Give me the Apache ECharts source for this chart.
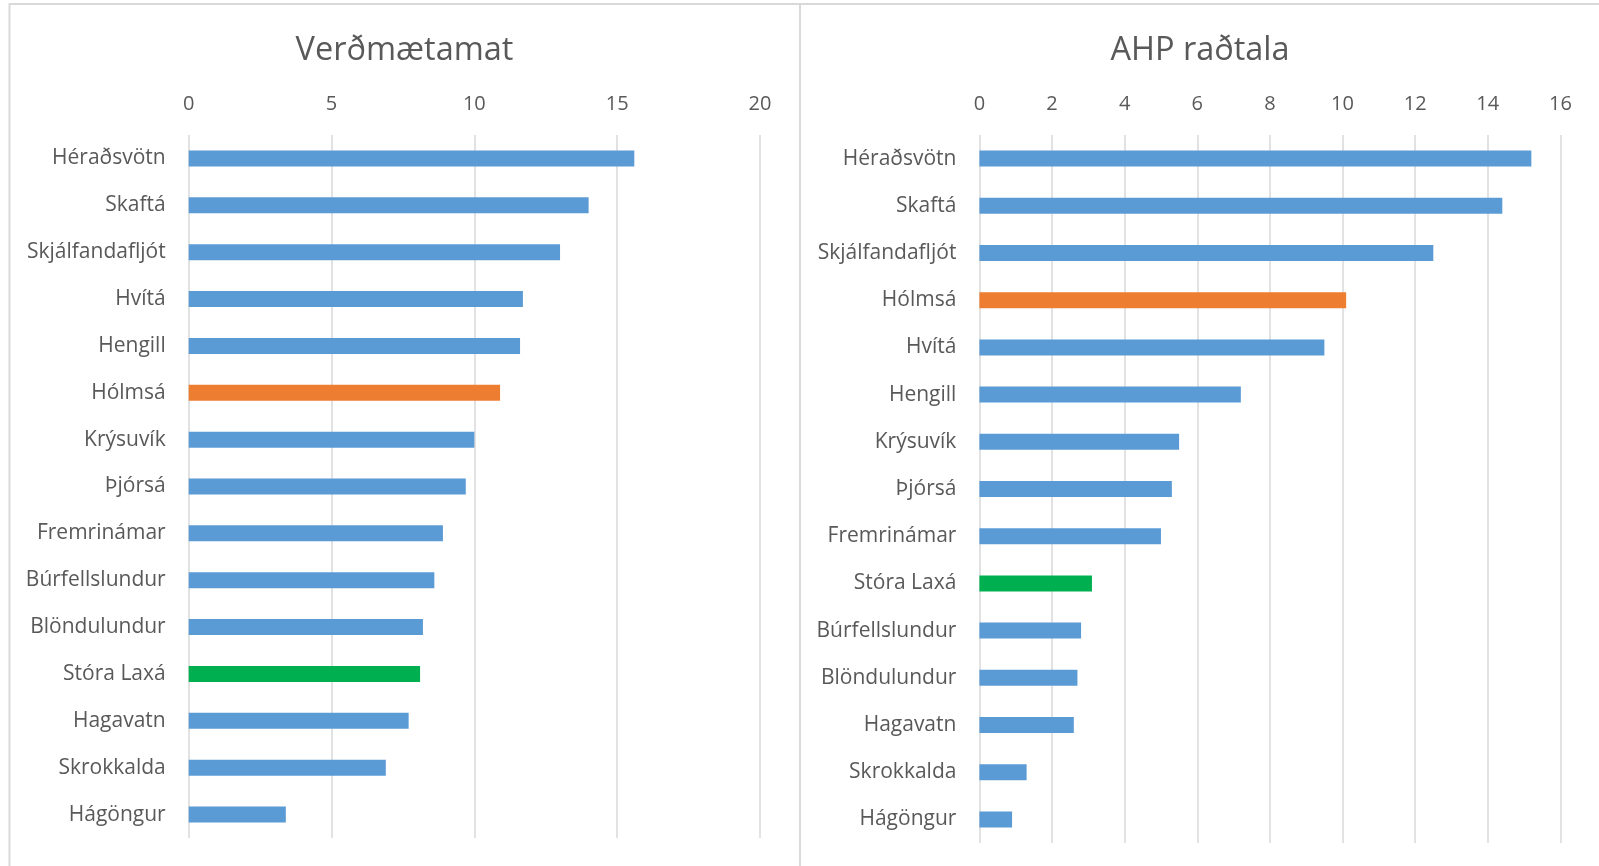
<!DOCTYPE html>
<html>
<head>
<meta charset="utf-8">
<script src="https://cdn.jsdelivr.net/npm/echarts@6/dist/echarts.min.js"></script>
<style>
  html, body { margin: 0; padding: 0; background: #fff; }
  #chart { width: 1599px; height: 866px; }
</style>
</head>
<body>
<div id="chart"></div>
<script>
// ---- Data ----
const titleLeft = 'Verðmætamat';
const titleRight = 'AHP raðtala';

const categoriesLeft = ['Héraðsvötn', 'Skaftá', 'Skjálfandafljót', 'Hvítá', 'Hengill', 'Hólmsá', 'Krýsuvík', 'Þjórsá', 'Fremrinámar', 'Búrfellslundur', 'Blöndulundur', 'Stóra Laxá', 'Hagavatn', 'Skrokkalda', 'Hágöngur'];
const valuesLeft = [15.6, 14.0, 13.0, 11.7, 11.6, 10.9, 10.0, 9.7, 8.9, 8.6, 8.2, 8.1, 7.7, 6.9, 3.4];

const categoriesRight = ['Héraðsvötn', 'Skaftá', 'Skjálfandafljót', 'Hólmsá', 'Hvítá', 'Hengill', 'Krýsuvík', 'Þjórsá', 'Fremrinámar', 'Stóra Laxá', 'Búrfellslundur', 'Blöndulundur', 'Hagavatn', 'Skrokkalda', 'Hágöngur'];
const valuesRight = [15.2, 14.4, 12.5, 10.1, 9.5, 7.2, 5.5, 5.3, 5.0, 3.1, 2.8, 2.7, 2.6, 1.3, 0.9];

const ticksLeft = [0, 5, 10, 15, 20];
const ticksRight = [0, 2, 4, 6, 8, 10, 12, 14, 16];

const highlightColors = { 'Hólmsá': '#ED7D31', 'Stóra Laxá': '#00B050' };
const baseColor = '#5B9BD5';

// ---- Chart ----
const FONT = 'Open Sans';
const TEXT = '#595959';
const GRIDC = '#d9d9d9';

function barData(cats, vals) {
  return vals.map((v, i) => ({
    value: v,
    itemStyle: { color: highlightColors[cats[i]] || baseColor }
  }));
}

function xAxisFor(gridIndex, ticks) {
  return {
    type: 'value', gridIndex: gridIndex, position: 'top',
    min: ticks[0], max: ticks[ticks.length - 1], interval: ticks[1] - ticks[0],
    axisLine: { show: false }, axisTick: { show: false },
    axisLabel: { color: TEXT, fontFamily: FONT, fontSize: 20, margin: 21 },
    splitLine: { show: true, lineStyle: { color: GRIDC, width: 1.5 } }
  };
}
function yAxisFor(gridIndex, cats) {
  return {
    type: 'category', gridIndex: gridIndex, data: cats, inverse: true,
    axisLine: { show: false }, axisTick: { show: false },
    axisLabel: { color: TEXT, fontFamily: FONT, fontSize: 21, margin: 23, padding: [4, 0, 0, 0] },
    splitLine: { show: false }
  };
}

const chart = echarts.init(document.getElementById('chart'), null, { renderer: 'canvas' });
chart.setOption({
  animation: false,
  backgroundColor: '#ffffff',
  title: [
    { text: titleLeft, left: 399.5, top: 29, textAlign: 'center',
      textStyle: { color: TEXT, fontFamily: FONT, fontSize: 32.5, fontWeight: 'normal' } },
    { text: titleRight, left: 1195, top: 29, textAlign: 'center',
      textStyle: { color: TEXT, fontFamily: FONT, fontSize: 32.5, fontWeight: 'normal' } }
  ],
  grid: [
    { left: 188.7, width: 571.3, top: 135, height: 703 },
    { left: 979.4, width: 581, top: 135, height: 708 }
  ],
  xAxis: [xAxisFor(0, ticksLeft), xAxisFor(1, ticksRight)],
  yAxis: [yAxisFor(0, categoriesLeft), yAxisFor(1, categoriesRight)],
  series: [
    { type: 'bar', xAxisIndex: 0, yAxisIndex: 0, barWidth: 16, data: barData(categoriesLeft, valuesLeft) },
    { type: 'bar', xAxisIndex: 1, yAxisIndex: 1, barWidth: 16, data: barData(categoriesRight, valuesRight) }
  ],
  graphic: [
    { type: 'polyline', silent: true, shape: { points: [[9.5, 866], [9.5, 4], [1599, 4]] },
      style: { stroke: GRIDC, lineWidth: 2, fill: null } },
    { type: 'line', silent: true, shape: { x1: 800, y1: 4, x2: 800, y2: 866 },
      style: { stroke: GRIDC, lineWidth: 2 } }
  ]
});
</script>
</body>
</html>
